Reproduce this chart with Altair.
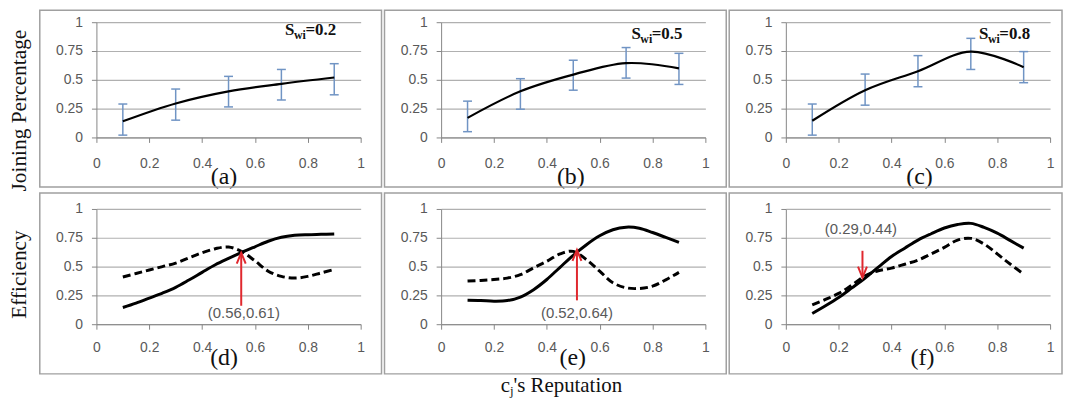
import altair as alt
import pandas as pd

# ---------------- data ----------------
x_top = [0.1, 0.3, 0.5, 0.7, 0.9]
join_a = [0.14, 0.295, 0.40, 0.465, 0.52]
lo_a = [0.02, 0.15, 0.265, 0.325, 0.37]
hi_a = [0.29, 0.42, 0.53, 0.59, 0.64]
join_b = [0.17, 0.40, 0.545, 0.645, 0.60]
lo_b = [0.05, 0.245, 0.41, 0.515, 0.46]
hi_b = [0.315, 0.51, 0.67, 0.78, 0.73]
join_c = [0.145, 0.41, 0.575, 0.745, 0.61]
lo_c = [0.02, 0.28, 0.44, 0.59, 0.475]
hi_c = [0.29, 0.55, 0.71, 0.86, 0.745]

x_eff = [0.1, 0.15, 0.2, 0.25, 0.3, 0.35, 0.4, 0.45, 0.5, 0.55, 0.6, 0.65, 0.7, 0.75, 0.8, 0.85, 0.9]
eff_d_solid = [0.145, 0.183, 0.226, 0.27, 0.32, 0.383, 0.45, 0.516, 0.571, 0.623, 0.672, 0.72, 0.754, 0.771, 0.777, 0.78, 0.783]
eff_d_dash = [0.41, 0.44, 0.47, 0.50, 0.53, 0.575, 0.62, 0.655, 0.67, 0.63, 0.55, 0.46, 0.415, 0.40, 0.415, 0.445, 0.475]
eff_e_solid = [0.207, 0.205, 0.20, 0.205, 0.236, 0.30, 0.388, 0.494, 0.598, 0.69, 0.767, 0.82, 0.842, 0.833, 0.796, 0.753, 0.71]
eff_e_dash = [0.374, 0.38, 0.388, 0.40, 0.43, 0.489, 0.546, 0.61, 0.632, 0.56, 0.46, 0.36, 0.316, 0.31, 0.33, 0.385, 0.45]
eff_f_solid = [0.093, 0.16, 0.232, 0.315, 0.40, 0.495, 0.588, 0.66, 0.73, 0.785, 0.835, 0.865, 0.875, 0.84, 0.79, 0.725, 0.66]
eff_f_dash = [0.168, 0.215, 0.267, 0.34, 0.42, 0.464, 0.487, 0.52, 0.556, 0.61, 0.667, 0.73, 0.745, 0.696, 0.61, 0.52, 0.435]

x_ticks = [0, 0.2, 0.4, 0.6, 0.8, 1]
y_ticks = [0, 0.25, 0.5, 0.75, 1]

# annotations: (label, arrow x, arrow start y, arrow tip y, label x, label y)
ann_d = ["(0.56,0.61)", 0.548, 0.16, 0.62, 0.558, 0.10]
ann_e = ["(0.52,0.64)", 0.514, 0.207, 0.645, 0.514, 0.10]
ann_f = ["(0.29,0.44)", 0.29, 0.637, 0.405, 0.284, 0.826]

# ---------------- style ----------------
W, H = 266, 116
AX = "#868686"
GRID = "#b0b0b0"
LBL = "#595959"
BOX = "#a0a0a0"
ERR = "#7094c4"
RED = "#e0282e"
SERIF = "Liberation Serif"
SANS = "Liberation Sans"
ONE = pd.DataFrame({"k": [0]})


def make_x(title, tx, lpad, tpad):
    return alt.X("x:Q", scale=alt.Scale(domain=[0, 1], nice=False, zero=False),
                 axis=alt.Axis(values=x_ticks, labelExpr="'' + datum.value", grid=False, title=title,
                               titleFont=SERIF, titleFontSize=24, titleFontWeight="normal",
                               titleColor="#111111", titleX=tx, titleBaseline="alphabetic",
                               titlePadding=tpad, domainColor=AX, tickColor=AX, tickSize=5,
                               labelFont=SANS, labelFontSize=14, labelColor=LBL,
                               labelPadding=lpad, labelFlush=False))


def make_y():
    return alt.Y("y:Q", scale=alt.Scale(domain=[0, 1], nice=False, zero=False),
                 axis=alt.Axis(values=y_ticks, labelExpr="'' + datum.value", grid=True, gridColor=GRID,
                               gridWidth=1.2, title=None, domainColor=AX, tickColor=AX,
                               tickSize=5, labelFont=SANS, labelFontSize=14, labelColor=LBL,
                               labelPadding=9, labelFlush=False))


def frame(top, box_right):
    return alt.Chart(ONE).mark_rect(fillOpacity=0, stroke=BOX, strokeWidth=1.5).encode(
        x=alt.value(-57), x2=alt.value(W + box_right), y=alt.value(top), y2=alt.value(H + 50))


def s_label(X, Y, val, sx, sy):
    df = pd.DataFrame({"x": [sx], "y": [sy]})
    common = dict(align="left", baseline="alphabetic", font=SERIF, fontWeight="bold", color="#111111")
    p1 = alt.Chart(df).mark_text(text="S", fontSize=17, **common).encode(x=X, y=Y)
    p2 = alt.Chart(df).mark_text(text="wi", fontSize=12, dx=9, dy=4, **common).encode(x=X, y=Y)
    p3 = alt.Chart(df).mark_text(text="=" + val, fontSize=17, dx=20.5, **common).encode(x=X, y=Y)
    return [p1, p2, p3]


def top_panel(join, lo, hi, val, sx, sy, title, tx, box_right, extra=None):
    X = make_x(title, tx, 14, 13)
    Y = make_y()
    line_df = pd.DataFrame({"x": x_top, "y": join})
    bar_df = pd.DataFrame({"x": x_top, "y": lo, "y2": hi})
    cap_df = pd.DataFrame({"x": x_top + x_top, "y": lo + hi})
    layers = [frame(-12, box_right)]
    layers.append(alt.Chart(bar_df).mark_rule(color=ERR, strokeWidth=1.5).encode(
        x=X, y=Y, y2=alt.Y2("y2:Q")))
    layers.append(alt.Chart(cap_df).mark_tick(orient="horizontal", size=9, thickness=1.5,
                                              color=ERR, opacity=1).encode(x=X, y=Y))
    layers.append(alt.Chart(line_df).mark_line(color="black", strokeWidth=2.2,
                                               interpolate="catmull-rom").encode(x=X, y=Y))
    layers += s_label(X, Y, val, sx, sy)
    if extra:
        layers += extra
    return alt.layer(*layers).properties(width=W, height=H)


def bottom_panel(solid, dash, ann, up, title, tx, box_right, extra=None):
    X = make_x(title, tx, 11, 11)
    Y = make_y()
    s_df = pd.DataFrame({"x": x_eff, "y": solid})
    d_df = pd.DataFrame({"x": x_eff, "y": dash})
    label, ax_, ay0, ay1, lx, ly = ann
    rule_df = pd.DataFrame({"x": [ax_], "y": [ay0], "y2": [ay1]})
    tip_df = pd.DataFrame({"x": [ax_], "y": [ay1]})
    lab_df = pd.DataFrame({"x": [lx], "y": [ly], "t": [label]})
    head = "M-0.9,2.2L0,0L0.9,2.2" if up else "M-0.9,-2.2L0,0L0.9,-2.2"
    layers = [frame(-16, box_right)]
    layers.append(alt.Chart(d_df).mark_line(color="black", strokeWidth=3, strokeDash=[8, 4],
                                            interpolate="catmull-rom").encode(x=X, y=Y))
    layers.append(alt.Chart(s_df).mark_line(color="black", strokeWidth=3,
                                            interpolate="catmull-rom").encode(x=X, y=Y))
    layers.append(alt.Chart(rule_df).mark_rule(color=RED, strokeWidth=2).encode(
        x=X, y=Y, y2=alt.Y2("y2:Q")))
    layers.append(alt.Chart(tip_df).mark_point(shape=head, size=100, filled=False, color=RED,
                                               strokeWidth=2, opacity=1).encode(x=X, y=Y))
    layers.append(alt.Chart(lab_df).mark_text(font=SANS, fontSize=15, color=LBL, align="center",
                                              baseline="middle").encode(x=X, y=Y, text="t:N"))
    if extra:
        layers += extra
    return alt.layer(*layers).properties(width=W, height=H)


# side / bottom titles
anchor = alt.Chart(ONE).mark_rect(fillOpacity=0).encode(
    x=alt.value(-89), x2=alt.value(-88), y=alt.value(40), y2=alt.value(41))
join_title = alt.Chart(ONE).mark_text(text="Joining Percentage", font=SERIF, fontSize=21.5,
                                      angle=270, align="center", baseline="middle",
                                      color="#111111").encode(x=alt.value(-77), y=alt.value(89))
eff_title = alt.Chart(ONE).mark_text(text="Efficiency", font=SERIF, fontSize=21.5,
                                     angle=270, align="center", baseline="middle",
                                     color="#111111").encode(x=alt.value(-77), y=alt.value(66))
rep_common = dict(font=SERIF, align="left", baseline="alphabetic", color="#111111")
rep = [
    alt.Chart(ONE).mark_text(text="c", fontSize=21, **rep_common).encode(x=alt.value(60), y=alt.value(184)),
    alt.Chart(ONE).mark_text(text="j", fontSize=13, dx=9.3, dy=3.5, **rep_common).encode(x=alt.value(60), y=alt.value(184)),
    alt.Chart(ONE).mark_text(text="'s Reputation", fontSize=21, dx=12.8, **rep_common).encode(x=alt.value(60), y=alt.value(184)),
]

pa = top_panel(join_a, lo_a, hi_a, "0.2", 0.714, 0.886, "(a)", 128, 21, extra=[anchor, join_title])
pb = top_panel(join_b, lo_b, hi_b, "0.5", 0.72, 0.858, "(b)", 130, 21)
pc = top_panel(join_c, lo_c, hi_c, "0.8", 0.731, 0.858, "(c)", 134, 12)
pd_ = bottom_panel(eff_d_solid, eff_d_dash, ann_d, True, "(d)", 128, 21, extra=[eff_title])
pe = bottom_panel(eff_e_solid, eff_e_dash, ann_e, True, "(e)", 132, 21, extra=rep)
pf = bottom_panel(eff_f_solid, eff_f_dash, ann_f, False, "(f)", 137, 12)

chart = alt.concat(pa, pb, pc, pd_, pe, pf, columns=3,
                   spacing={"row": 72, "column": 81}, bounds="flush").properties(
    padding=0).configure_view(strokeWidth=0)

chart.save("out.html", embed_options={"renderer": "svg", "actions": False})
